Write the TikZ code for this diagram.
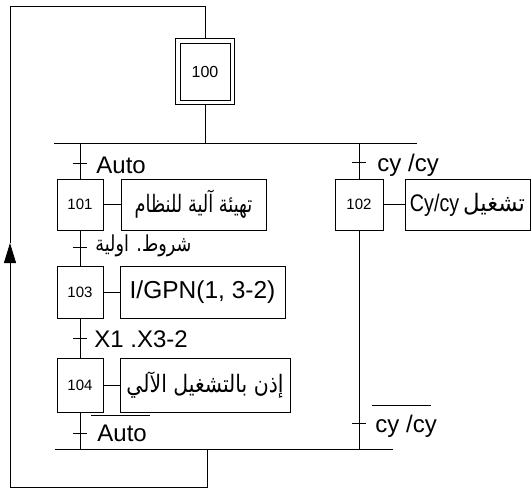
\documentclass[tikz,border=0pt]{standalone}
\usepackage{fontspec}
\setmainfont{Liberation Sans}
\newfontfamily\arabicfont[Script=Arabic]{DejaVu Sans}
\TeXXeTstate=1
\usetikzlibrary{arrows.meta}
\begin{document}
\begin{tikzpicture}[x=1pt,y=-1pt,line width=0.9pt,
  stepbox/.style={draw,minimum width=46pt,minimum height=51pt,inner sep=0pt,font=\fontsize{15}{15}\selectfont},
  actbox/.style={draw,minimum height=51pt,inner sep=0pt,font=\fontsize{24}{24}\selectfont},
  arfont/.style={font=\fontsize{24}{24}\selectfont\arabicfont},
  lbl/.style={anchor=base west,inner sep=0pt,font=\fontsize{24}{24}\selectfont},
  bar/.style={line width=0.7pt}]
\useasboundingbox (0,0) rectangle (532,490);

% initial step
\node[draw,minimum width=50pt,minimum height=57pt,inner sep=0pt,font=\fontsize{16}{16}\selectfont] (s100) at (205,71.5) {100};
\draw ([shift={(-4pt,4pt)}]s100.north west) rectangle ([shift={(4pt,-4pt)}]s100.south east);
\coordinate (s100t) at ([yshift=4pt]s100.north);
\coordinate (s100b) at ([yshift=-4pt]s100.south);

% steps
\node[stepbox] (s101) at (80,204.5) {101};
\node[stepbox,minimum height=52pt] (s103) at (80,292) {103};
\node[stepbox,minimum height=54pt] (s104) at (80,385) {104};
\node[stepbox,minimum width=48pt] (s102) at (359,204.5) {102};

% actions
\node[actbox,arfont,minimum width=145pt] (a101) at (193.5,204.5) {\scalebox{0.74}[1]{\beginR تهيئة آلية للنظام\endR}};
\node[actbox,minimum width=165pt,minimum height=52pt,font=\fontsize{24.5}{24.5}\selectfont] (a103) at (202.5,292) {I/GPN(1, 3-2)};
\node[actbox,arfont,minimum width=170pt,minimum height=54pt] (a104) at (205,385) {\scalebox{0.85}[1]{\beginR إذن بالتشغيل الآلي\endR}};
\node[actbox,minimum width=125pt] (a102) at (467.5,204.5) {\scalebox{0.82}[1]{Cy/cy}\hspace{4pt}{\arabicfont\scalebox{0.95}[1]{\beginR تشغيل\endR}}};

\foreach \s in {101,103,104,102}{\draw (s\s.east) -- (a\s.west);}

% divergence / convergence
\coordinate (d0) at (205,143);
\coordinate (dl) at (54,143);
\coordinate (dr) at (417,143);
\coordinate (b1) at (80,143);
\coordinate (b2) at (359,143);
\coordinate (cl) at (55,449);
\coordinate (cr) at (393,449);
\coordinate (c0) at (207,449);
\coordinate (c1) at (80,449);
\coordinate (c2) at (359,449);
\coordinate (bot) at (207,487);
\coordinate (bl) at (10,487);
\coordinate (at) at (10,243);
\coordinate (tl) at (10,6);
\coordinate (tr) at (205,6);

\draw (s100b) -- (d0);
\draw (dl) -- (dr);
\draw (cl) -- (cr);
\draw (b1) -- (s101.north);
\draw (s101.south) -- (s103.north);
\draw (s103.south) -- (s104.north);
\draw (s104.south) -- (c1);
\draw (b2) -- (s102.north);
\draw (s102.south) -- (c2);

% loop back
\draw[-{Triangle[length=20pt,width=12pt]}] (c0) -- (bot) -- (bl) -- (at);
\draw (at) -- (tl) -- (tr) -- (s100t);

% transitions
\coordinate (t1) at (80,163);
\coordinate (t2) at (80,247);
\coordinate (t3) at (80,338);
\coordinate (t4) at (80,433);
\coordinate (t5) at (359,162);
\coordinate (t6) at (359,423);
\foreach \t in {t1,t2,t3,t4,t5,t6}{\draw ([xshift=-7pt]\t) -- ([xshift=7pt]\t);}

\node[lbl] (l1) at (96,173) {Auto};
\node[anchor=west,inner sep=0pt,font=\fontsize{22}{22}\selectfont\arabicfont] (l2) at (95,246) {\scalebox{0.8}[1]{\beginR شروط. اولية\endR}};
\node[lbl] (l3) at (94,347) {X1 .X3-2};
\node[lbl] (l4) at (97,441) {Auto};
\node[lbl] (l5) at (377,171) {cy /cy};
\node[lbl] (l6) at (375,432) {cy /cy};
\draw[bar] ([shift={(-6pt,9pt)}]l4.north west) -- ([shift={(3pt,9pt)}]l4.north east);
\draw[bar] ([shift={(-3pt,9pt)}]l6.north west) -- ([shift={(-6pt,9pt)}]l6.north east);
\end{tikzpicture}
\end{document}
